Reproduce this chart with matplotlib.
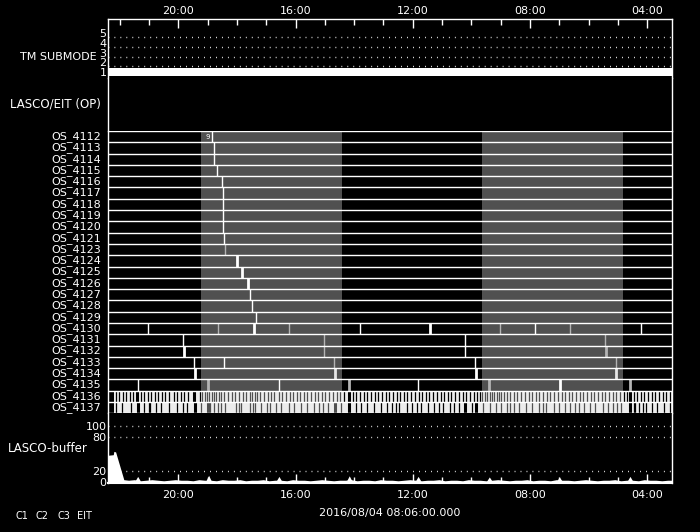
import numpy as np
import matplotlib
matplotlib.use("Agg")
from matplotlib import pyplot as plt

# time axis in decimal hours, runs backwards (left = later)
t_left = 22.40
t_right = 3.17
major_hours = [20, 16, 12, 8, 4]
major_labels = ['20:00', '16:00', '12:00', '08:00', '04:00']
minor_hours = list(range(4, 23))

# TM submode
submode_levels = [1, 2, 3, 4, 5]
submode_times = [22.40, 3.17]
submode_values = [1, 1]

# shaded periods (start, end) in hours
shade_start = [19.23, 9.62]
shade_end = [14.42, 4.81]

os_names = ['OS_4112', 'OS_4113', 'OS_4114', 'OS_4115', 'OS_4116', 'OS_4117',
            'OS_4118', 'OS_4119', 'OS_4120', 'OS_4121', 'OS_4123', 'OS_4124',
            'OS_4125', 'OS_4126', 'OS_4127', 'OS_4128', 'OS_4129', 'OS_4130',
            'OS_4131', 'OS_4132', 'OS_4133', 'OS_4134', 'OS_4135', 'OS_4136',
            'OS_4137']

# events per row: (hour, kind)  w thin white, W thick white, g thin grey, G thick grey, L thick light
os_events = {
    'OS_4112': [(18.84, 'w')],
    'OS_4113': [(18.78, 'w')],
    'OS_4114': [(18.78, 'w')],
    'OS_4115': [(18.67, 'w')],
    'OS_4116': [(18.50, 'w')],
    'OS_4117': [(18.47, 'w')],
    'OS_4118': [(18.47, 'w')],
    'OS_4119': [(18.47, 'w')],
    'OS_4120': [(18.47, 'w')],
    'OS_4121': [(18.44, 'w')],
    'OS_4123': [(18.40, 'g')],
    'OS_4124': [(18.00, 'W')],
    'OS_4125': [(17.84, 'W')],
    'OS_4126': [(17.62, 'W')],
    'OS_4127': [(17.54, 'w')],
    'OS_4128': [(17.48, 'w')],
    'OS_4129': [(17.34, 'w')],
    'OS_4130': [(21.03, 'w'), (18.64, 'g'), (17.42, 'W'), (16.22, 'g'), (13.81, 'w'),
                (11.42, 'W'), (9.03, 'g'), (7.83, 'w'), (6.64, 'g'), (4.21, 'w')],
    'OS_4131': [(19.83, 'w'), (15.03, 'g'), (10.22, 'w'), (5.45, 'g')],
    'OS_4132': [(19.81, 'W'), (15.03, 'g'), (10.22, 'w'), (5.42, 'G')],
    'OS_4133': [(19.48, 'w'), (18.44, 'w'), (14.69, 'g'), (9.88, 'w'), (5.07, 'g')],
    'OS_4134': [(19.43, 'W'), (14.65, 'L'), (9.85, 'W'), (5.06, 'L')],
    'OS_4135': [(21.39, 'w'), (18.98, 'G'), (16.57, 'w'), (14.17, 'G'), (11.83, 'w'),
                (9.39, 'G'), (6.99, 'W'), (4.58, 'G')],
}

# dense rows: light band from barcode_start, with dark gaps
barcode_start = 22.20
gaps_4136 = [22.12, 22.02, 21.90, 21.79, 21.66, 21.55, 21.28, 21.16, 21.05, 20.92, 20.80,
             20.68, 20.57, 20.44, 20.33, 20.15, 20.03, 19.91, 19.79, 19.66, 19.27, 19.18,
             19.10, 19.02, 18.94, 18.86, 18.78, 18.70, 18.62, 18.54, 18.45, 18.30, 18.18,
             18.05, 17.93, 17.80, 17.68, 17.55, 17.47, 17.40, 17.33, 17.20, 17.08, 16.95,
             16.83, 16.72, 16.58, 16.45, 16.33, 16.20, 16.08, 15.96, 15.84, 15.70, 15.60,
             15.48, 15.35, 15.22, 15.10, 14.98, 14.86, 14.72, 14.60, 14.48, 14.35, 14.05,
             13.93, 13.80, 13.68, 13.55, 13.43, 13.30, 13.18, 13.05, 12.92, 12.80, 12.68,
             12.55, 12.43, 12.30, 12.18, 12.05, 11.92, 11.80, 11.68, 11.55, 11.43, 11.30,
             11.18, 11.05, 10.92, 10.80, 10.68, 10.55, 10.43, 10.30, 10.18, 10.05, 9.92,
             9.80, 9.70, 9.62, 9.54, 9.46, 9.38, 9.30, 9.22, 9.14, 9.06, 8.98, 8.90, 8.80,
             8.68, 8.55, 8.43, 8.30, 8.18, 8.05, 7.92, 7.80, 7.68, 7.55, 7.43, 7.30, 7.18,
             7.05, 6.92, 6.80, 6.68, 6.55, 6.43, 6.30, 6.18, 6.05, 5.92, 5.80, 5.68, 5.55,
             5.43, 5.30, 5.18, 5.05, 4.92, 4.80, 4.68, 4.46, 4.35, 4.22, 4.10, 3.97, 3.85,
             3.72, 3.60, 3.47, 3.35, 3.23]
thick_4136 = [21.40, 19.45, 14.19, 4.59]
gaps_4137 = [22.13, 21.91, 21.63, 21.16, 21.01, 20.95, 20.76, 20.58, 20.33, 20.05, 19.84,
             19.71, 19.22, 18.91, 18.78, 18.66, 18.53, 18.41, 18.04, 17.94, 17.85, 17.54,
             17.44, 17.39, 17.17, 16.98, 16.86, 16.67, 16.49, 16.24, 16.05, 15.81, 15.62,
             15.37, 15.19, 15.06, 14.88, 14.44, 13.95, 13.76, 13.57, 13.33, 13.08, 12.89,
             12.71, 12.58, 12.46, 12.21, 12.03, 11.84, 11.72, 11.47, 11.28, 11.10, 10.97,
             10.72, 10.60, 10.41, 9.98, 9.61, 9.36, 9.17, 8.99, 8.80, 8.68, 8.56, 8.37,
             8.12, 7.94, 7.69, 7.56, 7.44, 7.19, 7.00, 6.82, 6.63, 6.45, 6.32, 6.14, 5.95,
             5.77, 5.52, 5.33, 5.15, 5.02, 4.90, 4.46, 4.40, 4.28, 4.15, 4.03, 3.85, 3.66,
             3.41, 3.22]
thick_4137 = [21.37, 19.43, 19.00, 14.67, 14.19, 10.20, 9.83, 4.59]

# LASCO buffer fill level
buf_times = [22.40, 22.22, 22.20, 22.14, 21.86, 21.70, 21.50, 21.30, 21.10, 20.90, 20.70,
             20.50, 20.30, 20.10, 19.90, 19.70, 19.50, 19.30, 19.10, 18.90, 18.70, 18.50,
             18.30, 18.10, 17.90, 17.70, 17.50, 17.30, 17.10, 16.90, 16.70, 16.50, 16.30,
             16.10, 15.90, 15.70, 15.50, 15.30, 15.10, 14.90, 14.70, 14.50, 14.30, 14.10,
             13.90, 13.70, 13.50, 13.30, 13.10, 12.90, 12.70, 12.50, 12.30, 12.10, 11.90,
             11.70, 11.50, 11.30, 11.10, 10.90, 10.70, 10.50, 10.30, 10.10, 9.90, 9.70,
             9.50, 9.30, 9.10, 8.90, 8.70, 8.50, 8.30, 8.10, 7.90, 7.70, 7.50, 7.30, 7.10,
             6.90, 6.70, 6.50, 6.30, 6.10, 5.90, 5.70, 5.50, 5.30, 5.10, 4.90, 4.70, 4.50,
             4.30, 4.10, 3.90, 3.70, 3.50, 3.30, 3.17]
buf_values = [48, 49, 55, 54, 4, 3, 4, 2, 3, 4, 3, 2, 3, 4, 3, 3, 2, 4, 3, 3, 2, 4, 3, 3, 4,
              2, 3, 3, 4, 2, 3, 3, 2, 4, 3, 3, 2, 3, 4, 3, 2, 3, 3, 4, 2, 3, 3, 2, 4, 3, 3, 2,
              3, 4, 3, 2, 3, 3, 4, 2, 3, 3, 2, 4, 3, 3, 2, 3, 4, 3, 2, 3, 3, 4, 2, 3, 3, 2, 4,
              3, 3, 2, 3, 4, 3, 2, 3, 3, 4, 2, 3, 3, 2, 4, 3, 3, 2, 3, 3]
bump_times = [21.37, 18.95, 16.55, 14.15, 11.80, 9.37, 6.98, 4.57]
bump_values = [9, 11, 9, 10, 9, 8, 8, 9]
buf_grid = [20, 80, 100]

W, H = 700, 532
fig = plt.figure(figsize=(W / 100, H / 100), dpi=100, facecolor='black')
x0, x1 = 108, 671.5


def add_ax(ytop, ybot):
    ax = fig.add_axes([x0 / W, 1 - ybot / H, (x1 - x0) / W, (ybot - ytop) / H])
    ax.set_facecolor('black')
    ax.set_xlim(t_left, t_right)
    for s in ax.spines.values():
        s.set_visible(False)
    ax.spines['left'].set_visible(True)
    ax.spines['right'].set_visible(True)
    for s in ax.spines.values():
        s.set_color('white')
        s.set_linewidth(1.0)
    ax.set_xticks([])
    ax.set_yticks([])
    return ax


ax_sub = add_ax(19, 78)
ax_op = add_ax(78, 131)
ax_os = add_ax(131, 413.3)
ax_buf = add_ax(413.3, 483)

# submode panel
ax_sub.set_ylim(0.385, 6.436)
ax_sub.spines['top'].set_visible(True)
ax_sub.xaxis.tick_top()
ax_sub.set_xticks(major_hours)
ax_sub.set_xticklabels(major_labels)
ax_sub.set_xticks(minor_hours, minor=True)
ax_sub.tick_params(axis='x', which='major', direction='in', length=6.8, width=1,
                   color='white', labelcolor='white', labelsize=8, pad=2.5)
ax_sub.tick_params(axis='x', which='minor', direction='in', length=4, width=1, color='white')
ax_sub.set_yticks(submode_levels)
ax_sub.set_yticklabels([str(v) for v in submode_levels])
ax_sub.tick_params(axis='y', length=0, pad=1, labelcolor='white', labelsize=8)
for lv in submode_levels[1:]:
    ax_sub.axhline(lv - 0.42, color='white', lw=1, ls=(0, (0.6, 3.7)))
ax_sub.fill_between(submode_times, [v - 0.38 for v in submode_values],
                    [v + 0.38 for v in submode_values], color='white', lw=0)

# OS rows
n = len(os_names)
ax_os.set_ylim(n, 0)
for a, b in zip(shade_start, shade_end):
    ax_os.axvspan(a, b, color='#505050', lw=0)
kind_style = {'w': ('white', 1.0), 'W': ('white', 2.0), 'g': ('#b4b4b4', 1.0),
              'G': ('#b4b4b4', 2.0), 'L': ('#e6e6e6', 2.0)}
for i, name in enumerate(os_names):
    for t, k in os_events.get(name, []):
        c, lw = kind_style[k]
        ax_os.vlines(t, i, i + 1, color=c, lw=lw)


def gap_color(t):
    for a, b in zip(shade_start, shade_end):
        if b <= t <= a:
            return '#505050'
    return 'black'


for i, gaps, thick in [(23, gaps_4136, thick_4136), (24, gaps_4137, thick_4137)]:
    ax_os.fill_between([barcode_start, t_right], i, i + 1, color='#ececec', lw=0)
    ax_os.vlines(gaps, i, i + 1, colors=[gap_color(t) for t in gaps], lw=0.9)
    ax_os.vlines(thick, i, i + 1, colors=[gap_color(t) for t in thick], lw=2.2)
ax_os.hlines(range(n + 1), t_left, t_right, color='white', lw=1.0)
ax_os.text(18.98, 0.5, '9', color='white', fontsize=5, ha='center', va='center')

# buffer panel
ax_buf.set_ylim(-2, 123.6)
ax_buf.spines['bottom'].set_visible(True)
ax_buf.spines['bottom'].set_linewidth(1.5)
for g in buf_grid:
    ax_buf.axhline(g, color='white', lw=1, ls=(0, (0.6, 3.7)))
ax_buf.fill_between(buf_times, -2, buf_values, color='white', lw=0)
for t, v in zip(bump_times, bump_values):
    ax_buf.fill([t + 0.1, t, t - 0.1], [0, v, 0], color='white', lw=0)
ax_buf.set_xticks(major_hours)
ax_buf.set_xticklabels(major_labels)
ax_buf.set_xticks(minor_hours, minor=True)
ax_buf.tick_params(axis='x', which='major', direction='in', length=6.8, width=1,
                   color='white', labelcolor='white', labelsize=8, pad=5)
ax_buf.tick_params(axis='x', which='minor', direction='in', length=4, width=1, color='white')
ax_buf.set_yticks([0, 20, 80, 100])
ax_buf.set_yticklabels(['0', '20', '80', '100'])
ax_buf.tick_params(axis='y', length=0, pad=1, labelcolor='white', labelsize=8)

# labels on the left
fig.text(97 / W, 1 - 57 / H, 'TM SUBMODE', color='white', fontsize=8, ha='right', va='center')
fig.text(101 / W, 1 - 104 / H, 'LASCO/EIT (OP)', color='white', fontsize=8.5, ha='right', va='center')
for i, name in enumerate(os_names):
    fig.text(101 / W, 1 - (131 + 11.28 * (i + 0.5)) / H, name, color='white', fontsize=8,
             ha='right', va='center')
fig.text(8 / W, 1 - 449 / H, 'LASCO-buffer', color='white', fontsize=8.5, ha='left', va='center')
for lab, xp in zip(['C1', 'C2', 'C3', 'EIT'], [15, 36, 57, 77]):
    fig.text(xp / W, 1 - 516 / H, lab, color='white', fontsize=7, ha='left', va='center')
fig.text(390 / W, 1 - 513 / H, '2016/08/04 08:06:00.000', color='white', fontsize=8,
         ha='center', va='center')

fig.savefig('out.png', dpi=100, facecolor='black')
